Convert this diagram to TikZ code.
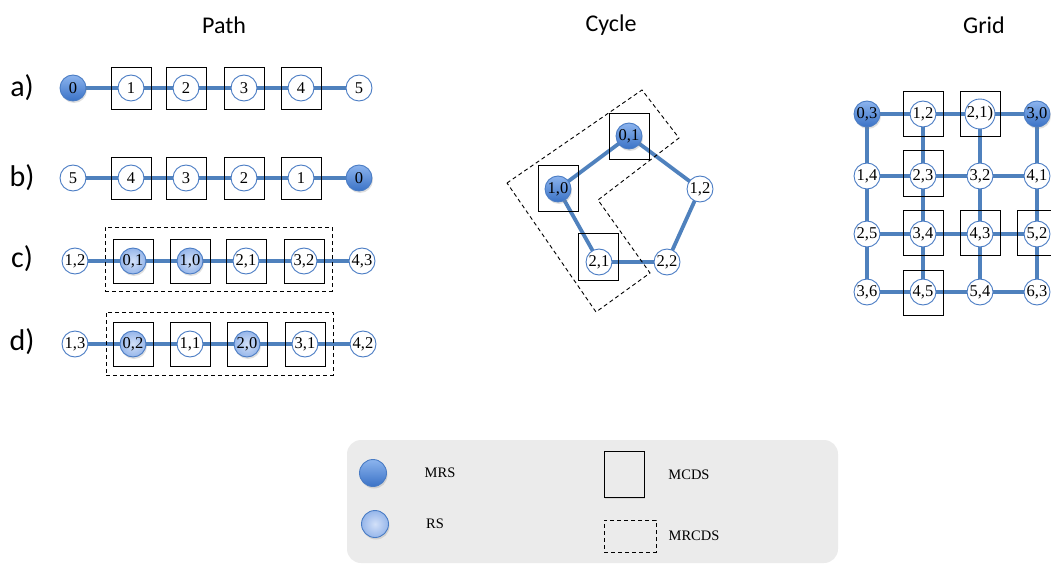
\documentclass[tikz,border=0pt]{standalone}
\usepackage{fontspec}
\setmainfont{Liberation Serif}
\newfontfamily\titlefont{Carlito}
\usetikzlibrary{backgrounds,shadows}
\definecolor{eblue}{HTML}{4F81BD}
\definecolor{nodeborder}{HTML}{4A7CC4}
\definecolor{mrstop}{HTML}{8CB4EE}
\definecolor{mrsbot}{HTML}{3A72C6}
\definecolor{rsin}{HTML}{D2E0F8}
\definecolor{rsout}{HTML}{96B6EA}
\definecolor{legendgray}{HTML}{EBEBEB}
\pgfdeclarelayer{edges}
\pgfsetlayers{background,edges,main}
\tikzset{
  v/.style={circle, draw=nodeborder, line width=0.9pt, fill=white, minimum size=26pt, inner sep=0pt,
    font=\fontsize{16.5}{16.5}\selectfont},
  mrs/.style={v, top color=mrstop, bottom color=mrsbot, drop shadow={opacity=0.25, shadow xshift=1pt, shadow yshift=-2pt}},
  rs/.style={v, inner color=rsin, outer color=rsout, drop shadow={opacity=0.25, shadow xshift=1pt, shadow yshift=-2pt}},
  mcds/.style={draw=black, line width=0.9pt, minimum width=40pt, minimum height=44pt, inner sep=0pt},
  mrcds/.style={draw=black, line width=0.9pt, dash pattern=on 4pt off 3pt, inner sep=0pt},
  edge/.style={line width=3.8pt, draw=eblue},
  title/.style={font=\titlefont\fontsize{24}{24}\selectfont},
  rowlab/.style={font=\titlefont\fontsize{30}{30}\selectfont},
  legtext/.style={font=\fontsize{14.5}{14.5}\selectfont}
}
\begin{document}
\begin{tikzpicture}[x=1pt,y=-1pt]
\useasboundingbox (0,0) rectangle (1051,564);

% titles
\node[title] (tpath) at (224,25) {Path};
\node[title] (tcycle) at (611,25) {Cycle};
\node[title] (tgrid) at (984,25) {Grid};

% row labels
\node[rowlab] (la) at (22,88) {a)};
\node[rowlab] (lb) at (22,178) {b)};
\node[rowlab] (lc) at (22,259) {c)};
\node[rowlab] (ld) at (22,342) {d)};

% ---------- Path ----------
% row a
\foreach \x/\t/\s [count=\i] in {73/0/mrs,131/1/v,186/2/v,244/3/v,301/4/v,359/5/v}
  \node[\s] (a\i) at (\x,88) {\t};
\foreach \i in {2,...,5} \node[mcds, minimum height=42pt] (ba\i) at (a\i) {};
% row b
\foreach \x/\t/\s [count=\i] in {73/5/v,131/4/v,186/3/v,244/2/v,301/1/v,359/0/mrs}
  \node[\s] (b\i) at (\x,178) {\t};
\foreach \i in {2,...,5} \node[mcds, minimum height=42pt] (bb\i) at (b\i) {};
% row c
\foreach \x/\t/\s [count=\i] in {75/{1,2}/v,133/{0,1}/rs,190/{1,0}/rs,246/{2,1}/v,304/{3,2}/v,362/{4,3}/v}
  \node[\s] (c\i) at (\x,261) {\t};
\foreach \i in {2,...,5} \node[mcds] (bc\i) at (c\i) {};
\node[mrcds, minimum width=227pt, minimum height=64pt] (dc) at (218.5,259) {};
% row d
\foreach \x/\t/\s [count=\i] in {75/{1,3}/v,133/{0,2}/rs,190/{1,1}/v,247/{2,0}/rs,305/{3,1}/v,363/{4,2}/v}
  \node[\s] (d\i) at (\x,344) {\t};
\foreach \i in {2,...,5} \node[mcds] (bd\i) at (d\i) {};
\node[mrcds, minimum width=227pt, minimum height=63pt] (dd) at (219.5,343.5) {};

\begin{pgfonlayer}{edges}
  \foreach \r in {a,b,c,d}{
    \foreach \i in {1,...,5}{
      \pgfmathtruncatemacro\j{\i+1}
      \draw[edge] (\r\i.center) -- (\r\j.center);
    }
  }
\end{pgfonlayer}

% ---------- Cycle ----------
\node[mcds, minimum height=46pt] (bk01) at (629,136) {};
\node[mcds, minimum height=46pt] (bk10) at (558.5,188.5) {};
\node[mcds, minimum height=47pt] (bk21) at (598.5,257) {};
\node[mrs] (k01) at (629,136) {0,1};
\node[mrs] (k10) at (558,189) {1,0};
\node[v] (k12) at (700,189) {1,2};
\node[v] (k21) at (599,262) {2,1};
\node[v] (k22) at (667,262) {2,2};
\draw[mrcds] (507,183) -- (642,90) -- (679,138) -- (598,200) -- (650,273) -- (596,312) -- cycle;
\begin{pgfonlayer}{edges}
  \draw[edge] (k01.center) -- (k10.center) -- (k21.center) -- (k22.center) -- (k12.center) -- (k01.center);
\end{pgfonlayer}

% ---------- Grid ----------
\foreach \x/\c in {923/1,980/2}
  \node[mcds, minimum height=45pt] (bg0\c) at (\x,114) {};
\node[mcds, minimum height=46pt] (bg11) at (923,173.5) {};
\foreach \x/\c in {923/1,980/2,1037/3}
  \node[mcds, minimum height=45pt] (bg2\c) at (\x,232.5) {};
\node[mcds, minimum height=45pt] (bg31) at (923,292.5) {};

\node[mrs] (g00) at (867,114) {0,3};
\node[v]   (g01) at (923,114) {1,2};
\node[v]   (g02) at (980,114) {2,1)};
\node[mrs] (g03) at (1037,114) {3,0};
\foreach \x/\t [count=\c from 0] in {867/{1,4},923/{2,3},980/{3,2},1037/{4,1}}
  \node[v] (g1\c) at (\x,176) {\t};
\foreach \x/\t [count=\c from 0] in {867/{2,5},923/{3,4},980/{4,3},1037/{5,2}}
  \node[v] (g2\c) at (\x,234) {\t};
\foreach \x/\t [count=\c from 0] in {867/{3,6},923/{4,5},980/{5,4},1037/{6,3}}
  \node[v] (g3\c) at (\x,292) {\t};
\begin{pgfonlayer}{edges}
  \foreach \r in {0,...,3}{
    \draw[edge] (g\r0.center) -- (g\r1.center) -- (g\r2.center) -- (g\r3.center);
  }
  \foreach \c in {0,...,3}{
    \draw[edge] (g0\c.center) -- (g1\c.center) -- (g2\c.center) -- (g3\c.center);
  }
\end{pgfonlayer}

% ---------- Legend ----------
\begin{pgfonlayer}{background}
  \fill[legendgray, rounded corners=14pt] (347,440) rectangle (838,563);
\end{pgfonlayer}
\node[mrs, minimum size=27pt] (lmrs) at (373,473) {};
\node[legtext] (tmrs) at (440,473) {MRS};
\node[rs, minimum size=27pt] (lrs) at (375,524) {};
\node[legtext] (trs) at (435,524) {RS};
\node[mcds, minimum height=46pt, drop shadow={opacity=0.2, shadow xshift=1pt, shadow yshift=-2pt}, fill=legendgray] (lmcds) at (624,474) {};
\node[legtext] (tmcds) at (689,475) {MCDS};
\node[mrcds, minimum width=52pt, minimum height=32pt] (lmrcds) at (630,536) {};
\node[legtext] (tmrcds) at (694,536) {MRCDS};
\end{tikzpicture}
\end{document}
